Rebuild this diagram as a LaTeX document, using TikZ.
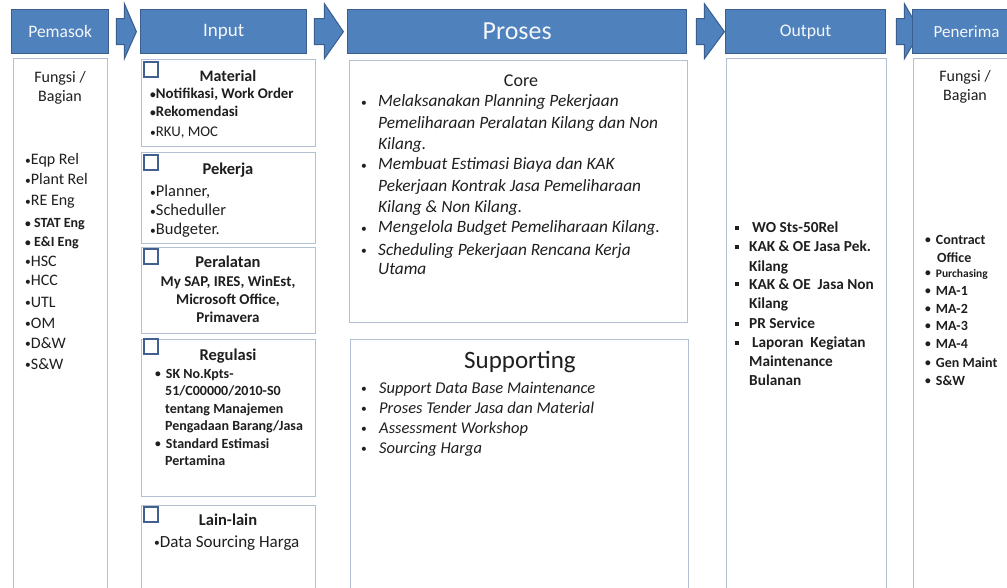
\documentclass[tikz,border=0pt]{standalone}
\usepackage{fontspec}
\setmainfont{Carlito}
\definecolor{hdrF}{HTML}{4F81BD}
\definecolor{hdrB}{HTML}{3A5F8E}
\definecolor{hdrT}{HTML}{F4F6FA}
\definecolor{boxB}{HTML}{B3C0D4}
\definecolor{chkB}{HTML}{41608F}
\definecolor{txt}{HTML}{1F1F1F}
\newcommand{\fs}[2]{\fontsize{#1}{#2}\selectfont}
\newcommand{\sqb}{\raisebox{2.5pt}{\rule{4pt}{4pt}}}
\newcommand{\bu}{\raisebox{0.8pt}{\fontsize{11.5}{11.5}\selectfont •}}
\tikzset{
  hdr/.style={draw=hdrB, fill=hdrF, line width=1.4pt, text=hdrT, inner sep=0pt, anchor=north west},
  bodybox/.style={draw=boxB, fill=white, line width=1.3pt, inner sep=0pt, anchor=north west},
  chk/.style={draw=chkB, fill=white, line width=1.8pt, minimum width=14pt, minimum height=15pt, inner sep=0pt, anchor=north west},
  arr/.style={draw=hdrB, fill=hdrF, line width=1pt, line join=miter},
  tl/.style={anchor=base west, inner sep=0pt, text=txt},
  tc/.style={anchor=base, inner sep=0pt, text=txt},
}
\begin{document}
\begin{tikzpicture}[x=1pt,y=-1pt]
\useasboundingbox (0,0) rectangle (1007,588);
\clip (0,0) rectangle (1007,588);
\fill[white] (0,0) rectangle (1007,588);

% ---------- body boxes ----------
\node[bodybox, minimum width=94pt, minimum height=560pt] (bpem) at (13,58) {};
\node[bodybox, minimum width=174pt, minimum height=87pt] (bmat) at (141,59) {};
\node[bodybox, minimum width=174pt, minimum height=91pt] (bpek) at (141,152) {};
\node[bodybox, minimum width=174pt, minimum height=86pt] (bper) at (141,247) {};
\node[bodybox, minimum width=174pt, minimum height=157pt] (breg) at (141,339) {};
\node[bodybox, minimum width=174pt, minimum height=120pt] (blain) at (141,505) {};
\node[bodybox, minimum width=338pt, minimum height=262pt] (bcore) at (349,60) {};
\node[bodybox, minimum width=338pt, minimum height=280pt] (bsup) at (350,339) {};
\node[bodybox, minimum width=160pt, minimum height=560pt] (bout) at (726,58) {};
\node[bodybox, minimum width=110pt, minimum height=560pt] (bpen) at (913,58) {};

% ---------- checkboxes ----------
\node[chk] (cmat) at (143,61) {};
\node[chk] (cpek) at (143,154) {};
\node[chk] (cper) at (143,248) {};
\node[chk] (creg) at (143,338) {};
\node[chk] (clain) at (143,506) {};

% ---------- headers (part 1) ----------
\node[hdr, minimum width=97pt, minimum height=44pt, font=\fs{17.5}{20}] (hpem) at (11,9) {Pemasok};
\node[hdr, minimum width=166pt, minimum height=44pt, font=\fs{19}{22}] (hin) at (140,9) {Input};
\node[hdr, minimum width=339pt, minimum height=44pt, font=\fs{26}{30}] (hpro) at (347,9) {Proses};
\node[hdr, minimum width=160pt, minimum height=44pt, font=\fs{17.7}{20}] (hout) at (725,9) {Output};

% ---------- block arrows ----------
\draw[arr] ([shift={(7,-13)}]hpem.east) -- ([shift={(15,-13)}]hpem.east) -- ([shift={(15,-28)}]hpem.east)
  -- ([shift={(27,0)}]hpem.east) -- ([shift={(15,27)}]hpem.east) -- ([shift={(15,13)}]hpem.east)
  -- ([shift={(7,13)}]hpem.east) -- cycle;
\draw[arr] ([shift={(7,-13)}]hin.east) -- ([shift={(17,-13)}]hin.east) -- ([shift={(17,-28)}]hin.east)
  -- ([shift={(36,0)}]hin.east) -- ([shift={(17,27)}]hin.east) -- ([shift={(17,13)}]hin.east)
  -- ([shift={(7,13)}]hin.east) -- cycle;
\draw[arr] ([shift={(9,-13)}]hpro.east) -- ([shift={(17,-13)}]hpro.east) -- ([shift={(17,-28)}]hpro.east)
  -- ([shift={(37,0)}]hpro.east) -- ([shift={(17,27)}]hpro.east) -- ([shift={(17,13)}]hpro.east)
  -- ([shift={(9,13)}]hpro.east) -- cycle;
\draw[arr] ([shift={(10,-13)}]hout.east) -- ([shift={(18,-13)}]hout.east) -- ([shift={(18,-28)}]hout.east)
  -- ([shift={(34,0)}]hout.east) -- ([shift={(18,27)}]hout.east) -- ([shift={(18,13)}]hout.east)
  -- ([shift={(10,13)}]hout.east) -- cycle;

\node[hdr, minimum width=110pt, minimum height=44pt, font=\fs{17}{20}, text width=100pt, align=left] (hpen) at (912,9) {\hspace*{16pt}Penerima};

% ---------- Pemasok ----------
\node[tc, font=\fs{16}{19}] (pf1) at (60,83) {Fungsi /};
\node[tc, font=\fs{16}{19}] (pf2) at (60,102) {Bagian};
\node[tl, font=\fs{16}{19}] (p1) at (25,165) {\bu Eqp Rel};
\node[tl, font=\fs{16}{19}] (p2) at (25,185) {\bu Plant Rel};
\node[tl, font=\fs{16}{19}] (p3) at (25,206) {\bu RE Eng};
\node[tl, font=\bfseries\fs{14}{16}] (p4) at (25,228) {\bu\ STAT Eng};
\node[tl, font=\bfseries\fs{14}{16}] (p5) at (25,247) {\bu\ E\&I Eng};
\node[tl, font=\fs{16}{19}] (p6) at (25,266) {\bu HSC};
\node[tl, font=\fs{16}{19}] (p7) at (25,286) {\bu HCC};
\node[tl, font=\fs{16}{19}] (p8) at (25,307) {\bu UTL};
\node[tl, font=\fs{16}{19}] (p9) at (25,328) {\bu OM};
\node[tl, font=\fs{16}{19}] (p10) at (25,348) {\bu D\&W};
\node[tl, font=\fs{16}{19}] (p11) at (25,369) {\bu S\&W};

% ---------- Input ----------
\node[tc, font=\bfseries\fs{16}{19}] (m0) at (228,82) {Material};
\node[tl, font=\bfseries\fs{14.8}{17}] (m1) at (150,99) {\bu Notifikasi, Work Order};
\node[tl, font=\bfseries\fs{14.8}{17}] (m2) at (150,117) {\bu Rekomendasi};
\node[tl, font=\fs{14.8}{17}] (m3) at (150,137) {\bu RKU, MOC};

\node[tc, font=\bfseries\fs{16.5}{19}] (k0) at (228,175) {Pekerja};
\node[tl, font=\fs{16.5}{19}] (k1) at (150,197) {\bu Planner,};
\node[tl, font=\fs{16.5}{19}] (k2) at (150,216) {\bu Scheduller};
\node[tl, font=\fs{16.5}{19}] (k3) at (150,235) {\bu Budgeter.};

\node[tc, font=\bfseries\fs{16.5}{19}] (r0) at (228,268) {Peralatan};
\node[tc, font=\bfseries\fs{15}{17}] (r1) at (228,287) {My SAP, IRES, WinEst,};
\node[tc, font=\bfseries\fs{15}{17}] (r2) at (228,304.5) {Microsoft Office,};
\node[tc, font=\bfseries\fs{15}{17}] (r3) at (228,322) {Primavera};

\node[tc, font=\bfseries\fs{16.5}{19}] (g0) at (228,360) {Regulasi};
\node[tl, font=\bfseries\fs{14}{16}] (g1) at (155,378) {\bu\hspace{5pt}SK No.Kpts-};
\node[tl, font=\bfseries\fs{14}{16}] (g2) at (165,395.5) {51/C00000/2010-S0};
\node[tl, font=\bfseries\fs{14}{16}] (g3) at (165,413) {tentang Manajemen};
\node[tl, font=\bfseries\fs{14}{16}] (g4) at (165,430.5) {Pengadaan Barang/Jasa};
\node[tl, font=\bfseries\fs{14}{16}] (g5) at (155,448) {\bu\hspace{5pt}Standard Estimasi};
\node[tl, font=\bfseries\fs{14}{16}] (g6) at (165,465.5) {Pertamina};

\node[tc, font=\bfseries\fs{16.5}{19}] (l0) at (228,525) {Lain-lain};
\node[tl, font=\fs{17}{19}] (l1) at (154,547) {\bu Data Sourcing Harga};

% ---------- Proses ----------
\node[tc, font=\fs{18}{21}] (c0) at (521,87) {Core};
\node[tl, font=\fs{16}{19}] (cb1) at (361,107) {\bu};
\node[tl, font=\itshape\fs{17.3}{21}] (c1) at (378,107) {Melaksanakan Planning Pekerjaan};
\node[tl, font=\itshape\fs{17.3}{21}] (c2) at (378,128.5) {Pemeliharaan Peralatan Kilang dan Non};
\node[tl, font=\itshape\fs{17.3}{21}] (c3) at (378,150) {Kilang.};
\node[tl, font=\fs{16}{19}] (cb2) at (361,170) {\bu};
\node[tl, font=\itshape\fs{17.3}{21}] (c4) at (378,170) {Membuat Estimasi Biaya dan KAK};
\node[tl, font=\itshape\fs{17.3}{21}] (c5) at (378,192) {Pekerjaan Kontrak Jasa Pemeliharaan};
\node[tl, font=\itshape\fs{17.3}{21}] (c6) at (378,213) {Kilang \& Non Kilang.};
\node[tl, font=\fs{16}{19}] (cb3) at (361,233) {\bu};
\node[tl, font=\itshape\fs{17.3}{21}] (c7) at (378,233) {Mengelola Budget Pemeliharaan Kilang.};
\node[tl, font=\fs{16}{19}] (cb4) at (361,255) {\bu};
\node[tl, font=\itshape\fs{17.3}{21}] (c8) at (378,255) {Scheduling Pekerjaan Rencana Kerja};
\node[tl, font=\itshape\fs{17.3}{21}] (c9) at (378,275) {Utama};

\node[tc, font=\fs{25}{29}] (s0) at (520,368) {Supporting};
\node[tl, font=\fs{16}{19}] (sb1) at (361,393) {\bu};
\node[tl, font=\itshape\fs{16.5}{19}] (s1) at (379,393) {Support Data Base Maintenance};
\node[tl, font=\fs{16}{19}] (sb2) at (361,413) {\bu};
\node[tl, font=\itshape\fs{16.5}{19}] (s2) at (379,413) {Proses Tender Jasa dan Material};
\node[tl, font=\fs{16}{19}] (sb3) at (361,433) {\bu};
\node[tl, font=\itshape\fs{16.5}{19}] (s3) at (379,433) {Assessment Workshop};
\node[tl, font=\fs{16}{19}] (sb4) at (361,453) {\bu};
\node[tl, font=\itshape\fs{16.5}{19}] (s4) at (379,453) {Sourcing Harga};

% ---------- Output ----------
\node[tl] (ob1) at (735,233) {\sqb};
\node[tl, font=\bfseries\fs{15.3}{18}] (o1) at (752,233) {WO Sts-50Rel};
\node[tl] (ob2) at (735,252) {\sqb};
\node[tl, font=\bfseries\fs{15.3}{18}] (o2) at (749,252) {KAK \& OE Jasa Pek.};
\node[tl, font=\bfseries\fs{15.3}{18}] (o3) at (749,272) {Kilang};
\node[tl] (ob3) at (735,289) {\sqb};
\node[tl, font=\bfseries\fs{15.3}{18}] (o4) at (749,289) {KAK \& OE\ \ Jasa Non};
\node[tl, font=\bfseries\fs{15.3}{18}] (o5) at (749,308) {Kilang};
\node[tl] (ob4) at (735,328) {\sqb};
\node[tl, font=\bfseries\fs{15.3}{18}] (o6) at (749,328) {PR Service};
\node[tl] (ob5) at (735,347) {\sqb};
\node[tl, font=\bfseries\fs{15.3}{18}] (o7) at (752,347) {Laporan\ \ Kegiatan};
\node[tl, font=\bfseries\fs{15.3}{18}] (o8) at (749,366.5) {Maintenance};
\node[tl, font=\bfseries\fs{15.3}{18}] (o9) at (749,385.5) {Bulanan};

% ---------- Penerima ----------
\node[tc, font=\fs{16}{19}] (nf1) at (965,82) {Fungsi /};
\node[tc, font=\fs{16}{19}] (nf2) at (965,101) {Bagian};
\node[tl, font=\bfseries\fs{14}{16}] (n1) at (925,244) {\bu\hspace{5pt}Contract};
\node[tl, font=\bfseries\fs{14}{16}] (n2) at (937,262) {Office};
\node[tl, font=\bfseries\fs{11.5}{13}] (n3) at (925,277) {\bu\hspace{5pt}Purchasing};
\node[tl, font=\bfseries\fs{14}{16}] (n4) at (925,295) {\bu\hspace{5pt}MA-1};
\node[tl, font=\bfseries\fs{14}{16}] (n5) at (925,313) {\bu\hspace{5pt}MA-2};
\node[tl, font=\bfseries\fs{14}{16}] (n6) at (925,330) {\bu\hspace{5pt}MA-3};
\node[tl, font=\bfseries\fs{14}{16}] (n7) at (925,348) {\bu\hspace{5pt}MA-4};
\node[tl, font=\bfseries\fs{14}{16}] (n8) at (925,367) {\bu\hspace{5pt}Gen Maint};
\node[tl, font=\bfseries\fs{14}{16}] (n9) at (925,385) {\bu\hspace{5pt}S\&W};
\end{tikzpicture}
\end{document}
